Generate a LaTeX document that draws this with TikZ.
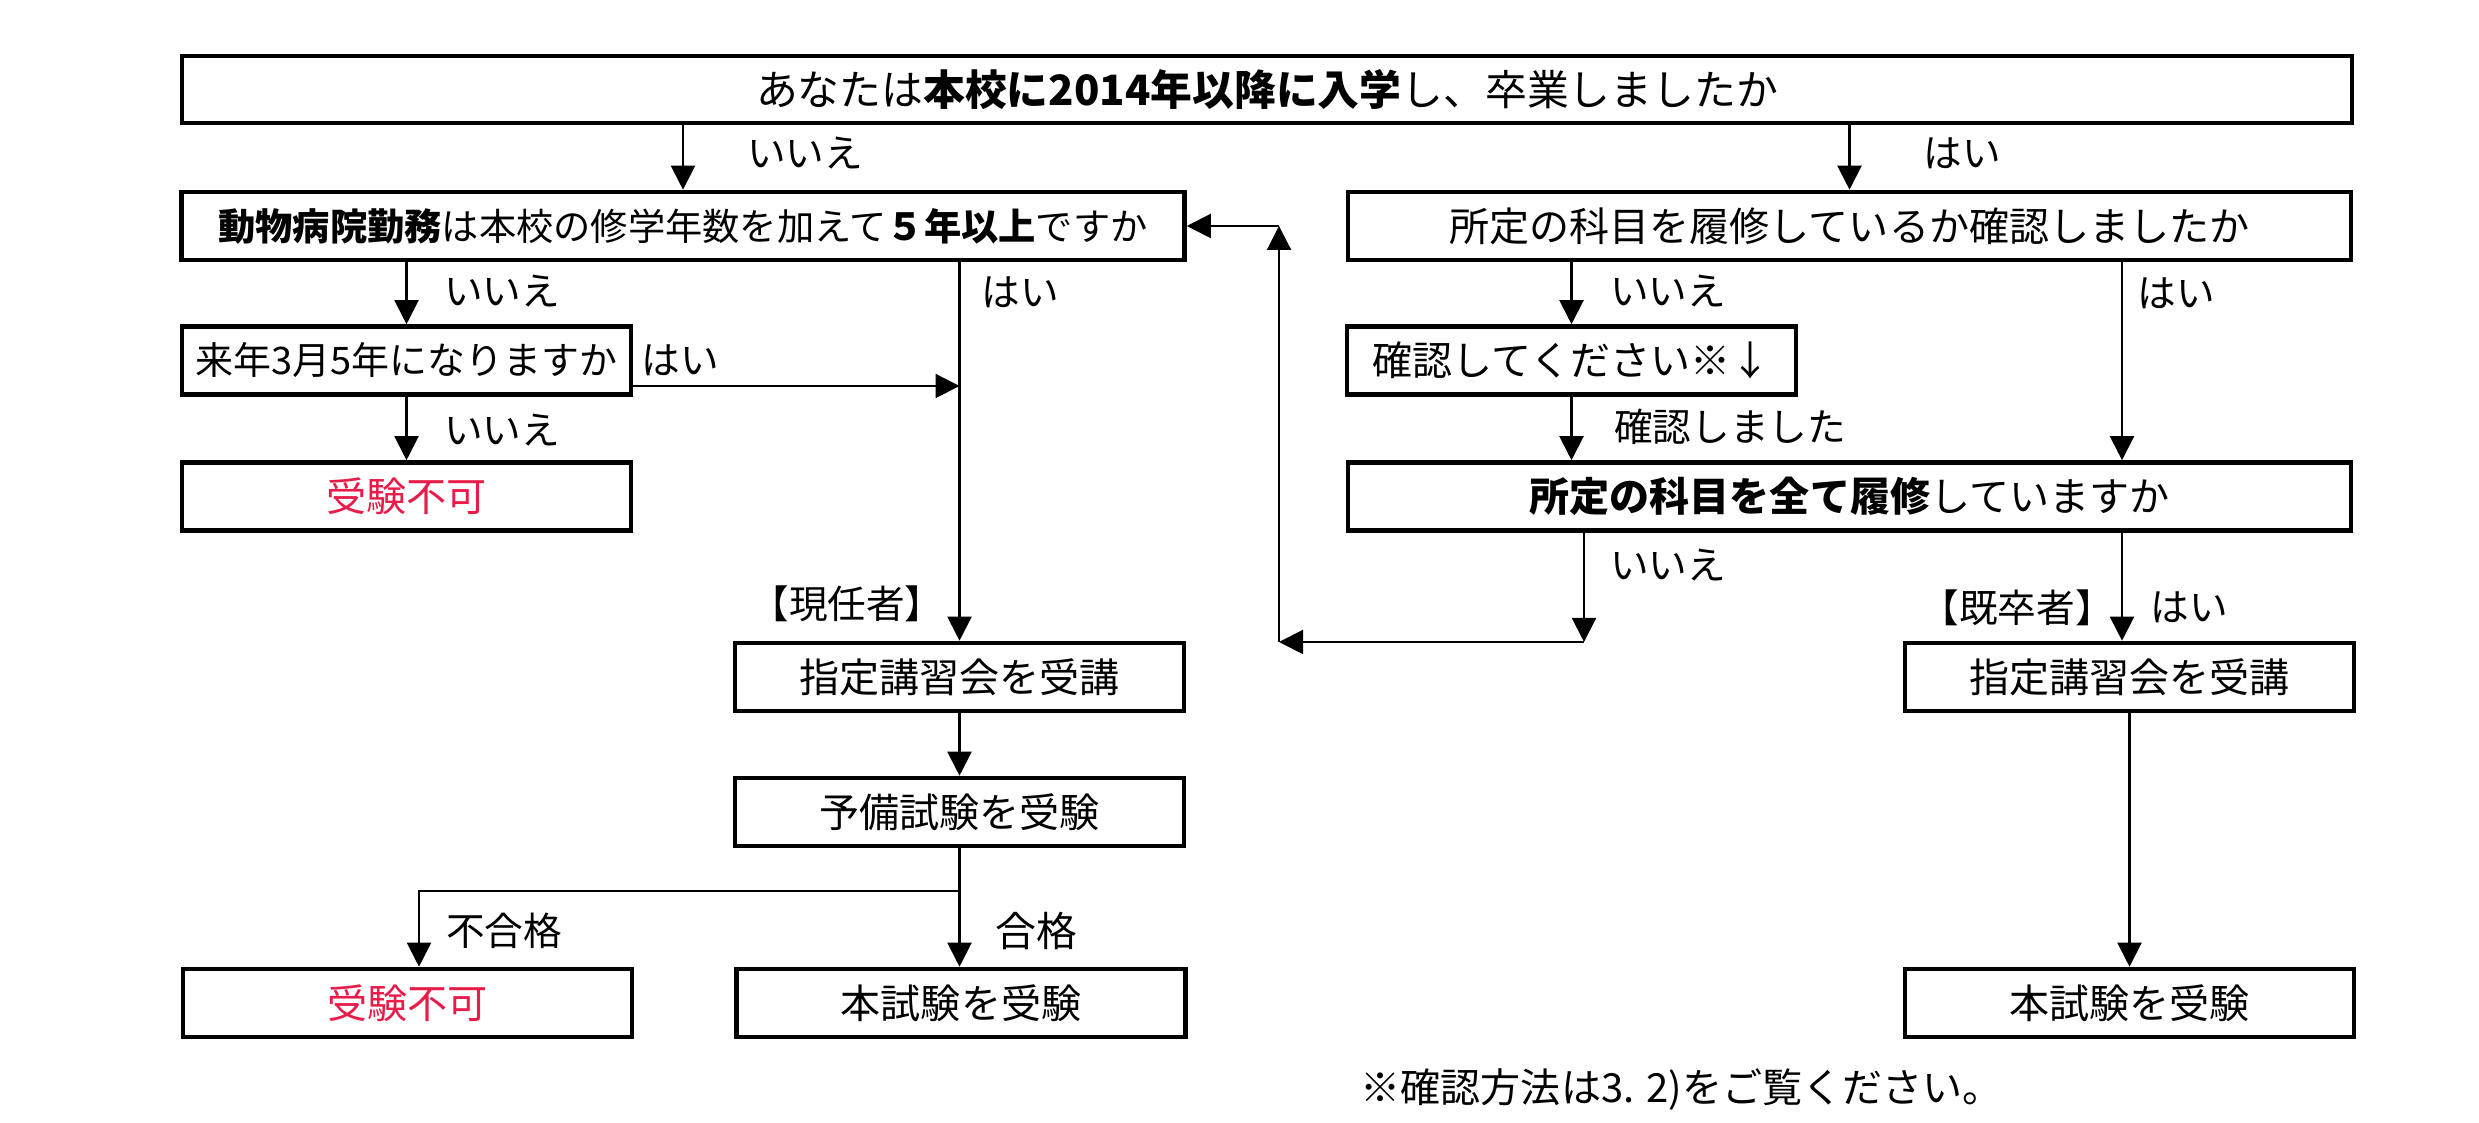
\documentclass[tikz,border=0pt]{standalone}
\usepackage{fontspec}
\setmainfont{Noto Sans CJK JP}
\usetikzlibrary{arrows.meta}
\definecolor{ngred}{RGB}{232,28,72}
\tikzset{
  box/.style={draw, line width=1.3pt, minimum height=0.68cm, inner sep=0pt,
    font=\fontsize{11.4}{13}\selectfont},
  wide/.style={box, minimum width=10.03cm},
  narrow/.style={box, minimum width=4.49cm},
  lbl/.style={inner sep=0pt, font=\fontsize{11}{13}\selectfont},
  flow/.style={->, line width=0.6pt},
}
\begin{document}
\begin{tikzpicture}[>={Triangle[length=2.4mm,width=2.4mm]}]
  \useasboundingbox (0,0) rectangle (24.79,11.23);
  % boxes
  \node [box, minimum width=21.70cm, minimum height=0.67cm,
    font=\fontsize{11.9}{14}\selectfont] (top) at (12.67,10.335)
    {あなたは\textbf{本校に2014年以降に入学}し、卒業しましたか};
  \node [wide, font=\fontsize{10.6}{13}\selectfont] (pet) at (6.83,8.97)
    {\textbf{動物病院勤務}は本校の修学年数を加えて\textbf{５年以上}ですか};
  \node [wide] (check) at (18.495,8.97) {所定の科目を履修しているか確認しましたか};
  \node [narrow, font=\fontsize{10.8}{13}\selectfont] (next) at (4.065,7.625) {来年3月5年になりますか};
  \node [narrow] (confirm) at (15.715,7.625) {確認してください※↓};
  \node [narrow, text=ngred] (ng1) at (4.065,6.265) {受験不可};
  \node [wide] (all) at (18.495,6.265) {\textbf{所定の科目を全て履修}していますか};
  \node [narrow] (course1) at (9.595,4.46) {指定講習会を受講};
  \node [narrow] (course2) at (21.295,4.46) {指定講習会を受講};
  \node [narrow] (pre) at (9.595,3.11) {予備試験を受験};
  \node [narrow, text=ngred] (ng2) at (4.075,1.20) {受験不可};
  \node [narrow] (exam1) at (9.61,1.20) {本試験を受験};
  \node [narrow] (exam2) at (21.295,1.20) {本試験を受験};
  \coordinate (yes) at (21.22,0);
  \coordinate (c1) at (15.84,4.81);
  \coordinate (c2) at (12.79,4.81);
  \coordinate (fail) at (4.19,2.32);
  % top question
  \draw [flow] (top.south -| pet.north) -- (pet.north);
  \node [lbl] (no1) at (8.05,9.70) {いいえ};
  \draw [flow] (top.south -| check.north) -- (check.north);
  \node [lbl] (yes1) at (19.62,9.70) {はい};
  % left branch
  \draw [flow] (pet.south -| next.north) -- (next.north);
  \node [lbl] (no2) at (5.02,8.32) {いいえ};
  \draw [flow] (pet.south -| course1.north) -- (course1.north);
  \node [lbl] (yes2) at (10.20,8.31) {はい};
  \draw [flow] ([yshift=-0.255cm]next.east) -- ([yshift=-0.255cm]next.east -| course1.north);
  \node [lbl] (yes3) at (6.80,7.63) {はい};
  \draw [flow] (next.south) -- (ng1.north);
  \node [lbl] (no3) at (5.02,6.93) {いいえ};
  \node [lbl] (now) at (8.47,5.19) {【現任者】};
  \draw [flow] (course1.south) -- (pre.north);
  \draw [flow] (pre.south) -- (pre.south |- exam1.north);
  \node [lbl, font=\fontsize{11.6}{13}\selectfont] (pass) at (10.36,1.92) {合格};
  \draw [flow] (pre.south |- fail) -- (fail) -- (fail |- ng2.north);
  \node [lbl] (nopass) at (5.04,1.92) {不合格};
  % right branch
  \draw [flow] (check.south -| confirm.north) -- (confirm.north);
  \node [lbl] (no4) at (16.68,8.32) {いいえ};
  \draw [flow] (check.south -| yes) -- (all.north -| yes);
  \node [lbl] (yes4) at (21.76,8.30) {はい};
  \draw [flow] (confirm.south) -- (confirm.south |- all.north);
  \node [lbl] (done) at (17.30,6.96) {確認しました};
  \draw [flow] (all.south -| c1) -- (c1);
  \draw [flow] (c1) -- (c2);
  \draw [flow] (c2) -- (c2 |- pet.east);
  \draw [flow] (c2 |- pet.east) -- (pet.east);
  \node [lbl] (no5) at (16.68,5.58) {いいえ};
  \draw [flow] (all.south -| yes) -- (course2.north -| yes);
  \node [lbl] (grad) at (20.17,5.15) {【既卒者】};
  \node [lbl] (yes5) at (21.89,5.16) {はい};
  \draw [flow] (course2.south) -- (exam2.north);
  \node [lbl, anchor=west, font=\fontsize{11.4}{13}\selectfont] (note) at (13.60,0.33)
    {※確認方法は3. 2)をご覧ください。};
\end{tikzpicture}
\end{document}
